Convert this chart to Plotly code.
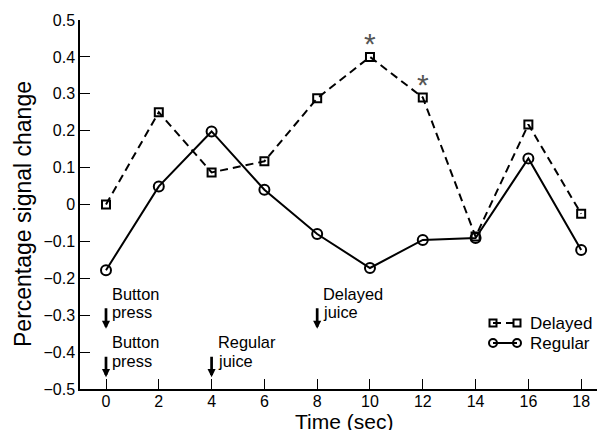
import plotly.graph_objects as go

# ---- data ----
time_sec = [0, 2, 4, 6, 8, 10, 12, 14, 16, 18]
delayed = [0.0, 0.25, 0.087, 0.117, 0.288, 0.40, 0.29, -0.087, 0.217, -0.025]
regular = [-0.178, 0.049, 0.198, 0.040, -0.080, -0.172, -0.096, -0.091, 0.125, -0.123]
sig_times = [10, 12]

x_ticks = [0, 2, 4, 6, 8, 10, 12, 14, 16, 18]
y_ticks = [-0.5, -0.4, -0.3, -0.2, -0.1, 0.0, 0.1, 0.2, 0.3, 0.4, 0.5]
y_ticktext = ["\u22120.5", "\u22120.4", "\u22120.3", "\u22120.2", "\u22120.1", "0",
              "0.1", "0.2", "0.3", "0.4", "0.5"]

# events: (time, row, line1, line2)
events = [(0, 0, "Button", "press"), (8, 0, "Delayed", "juice"),
          (0, 1, "Button", "press"), (4, 1, "Regular", "juice")]

FONT = "Liberation Sans, Arial, Helvetica, sans-serif"

# plot geometry (pixels)
W, H = 597, 430
ML, MR, MT, MB = 80, 0, 20, 41
PW, PH = W - ML - MR, H - MT - MB


def px(xp):
    return (xp - ML) / PW


def py(yp):
    return (H - MB - yp) / PH


fig = go.Figure()
fig.add_trace(go.Scatter(
    x=time_sec, y=delayed, mode="lines+markers", name="Delayed",
    line=dict(color="black", width=2, dash="8px,5px"),
    marker=dict(symbol="square-open", size=8, color="black", line=dict(width=2)),
    showlegend=False))
fig.add_trace(go.Scatter(
    x=time_sec, y=regular, mode="lines+markers", name="Regular",
    line=dict(color="black", width=2),
    marker=dict(symbol="circle-open", size=10, color="black", line=dict(width=2)),
    showlegend=False))

annotations = []
# significance asterisks
for t in sig_times:
    annotations.append(dict(x=t, y=delayed[time_sec.index(t)], xref="x", yref="y",
                            text="*", showarrow=False, yanchor="middle", yshift=13,
                            font=dict(family=FONT, size=30, color="#555555")))

# event arrows and labels
row_tip = [-0.337, -0.468]
for t, row, l1, l2 in events:
    tip = row_tip[row]
    annotations.append(dict(x=t, y=tip, xref="x", yref="y", text="", showarrow=True,
                            ax=0, ay=-22, arrowhead=2, arrowsize=0.6, arrowwidth=2.7,
                            arrowcolor="black", standoff=0))
    annotations.append(dict(x=t, y=tip + 0.0955, xref="x", yref="y", text=l1,
                            showarrow=False, xanchor="left", yanchor="middle", xshift=4,
                            font=dict(family=FONT, size=16.4, color="black")))
    annotations.append(dict(x=t, y=tip + 0.045, xref="x", yref="y", text=l2,
                            showarrow=False, xanchor="left", yanchor="middle", xshift=4,
                            font=dict(family=FONT, size=16.4, color="black")))

# axis titles
annotations.append(dict(x=px(23), y=py(214), xref="paper", yref="paper",
                        text="Percentage signal change", textangle=-90, showarrow=False,
                        xanchor="center", yanchor="middle",
                        font=dict(family=FONT, size=23, color="black")))
annotations.append(dict(x=9, y=py(421.5), xref="x", yref="paper", text="Time (sec)",
                        showarrow=False, xanchor="center", yanchor="middle",
                        font=dict(family=FONT, size=21, color="black")))

# custom legend
shapes = []
leg_rows = [("Delayed", 323, "square", "8px,5px"), ("Regular", 343, "circle", "solid")]
for name, yc, sym, dash in leg_rows:
    shapes.append(dict(type="line", xref="paper", yref="paper", x0=px(493), x1=px(517),
                       y0=py(yc), y1=py(yc), line=dict(color="black", width=2, dash=dash)))
    for xc in (493, 517):
        if sym == "square":
            r = 3.5
            shapes.append(dict(type="rect", xref="paper", yref="paper",
                               x0=px(xc - r), x1=px(xc + r), y0=py(yc + r), y1=py(yc - r),
                               line=dict(color="black", width=2), fillcolor="rgba(0,0,0,0)"))
        else:
            r = 4
            shapes.append(dict(type="circle", xref="paper", yref="paper",
                               x0=px(xc - r), x1=px(xc + r), y0=py(yc + r), y1=py(yc - r),
                               line=dict(color="black", width=2), fillcolor="rgba(0,0,0,0)"))
    annotations.append(dict(x=px(528), y=py(yc), xref="paper", yref="paper", text=name,
                            showarrow=False, xanchor="left", yanchor="middle",
                            font=dict(family=FONT, size=17, color="black")))

fig.update_layout(
    width=W, height=H,
    margin=dict(l=ML, r=MR, t=MT, b=MB, pad=0),
    paper_bgcolor="white", plot_bgcolor="white",
    font=dict(family=FONT, size=16, color="black"),
    annotations=annotations, shapes=shapes,
    showlegend=False,
)
fig.update_xaxes(range=[-0.985, 18.6], tickvals=x_ticks, ticks="inside", ticklen=10,
                 tickwidth=1.3, tickcolor="black", showline=True, linecolor="black",
                 linewidth=1.5, showgrid=False, zeroline=False, ticklabelstandoff=-3,
                 tickfont=dict(family=FONT, size=16, color="black"))
fig.update_yaxes(range=[-0.5, 0.5], tickvals=y_ticks, ticktext=y_ticktext, ticks="inside",
                 ticklen=10, tickwidth=1.3, tickcolor="black", showline=True,
                 linecolor="black", linewidth=1.5, showgrid=False, zeroline=False,
                 tickfont=dict(family=FONT, size=16, color="black"))

fig.write_html("out.html", config={"displayModeBar": False},
               post_script="document.body.style.margin='0';document.body.style.overflow='hidden';")
